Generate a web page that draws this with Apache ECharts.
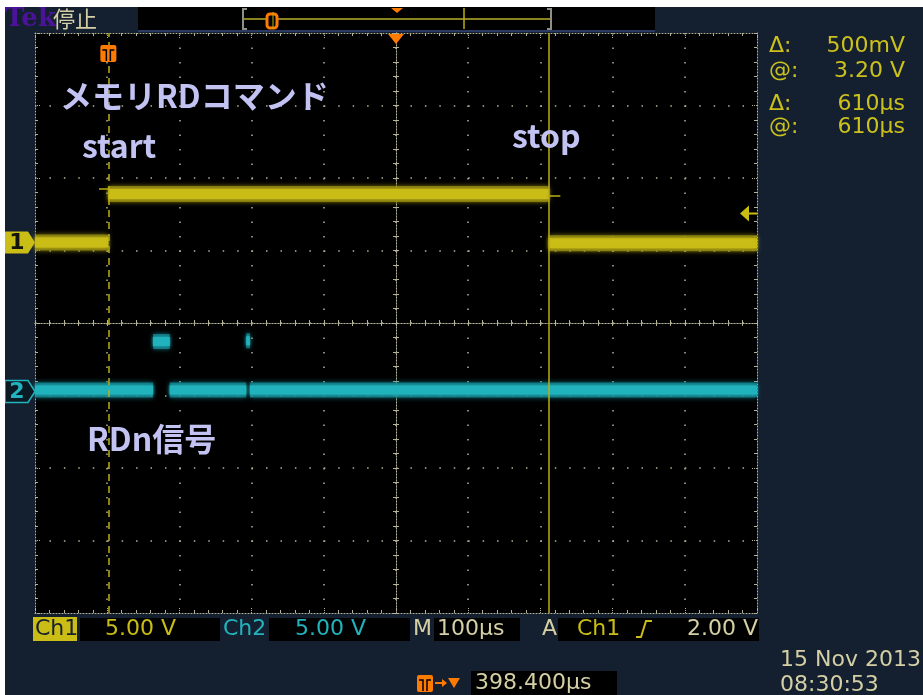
<!DOCTYPE html>
<html>
<head>
<meta charset="utf-8">
<title>メモリRDコマンド</title>
<script src="https://cdn.jsdelivr.net/npm/echarts@6.0.0/dist/echarts.min.js"></script>
<style>
  html, body { margin: 0; padding: 0; background: #ffffff; }
  #scope { width: 923px; height: 695px; }
</style>
</head>
<body>
<div id="scope"></div>
<script>
// ---- acquisition settings ----
const timePerDiv = 100;              // µs / div
const triggerDelay = 398.4;          // µs from trigger to screen centre
const voltsPerDiv = [5, 5];          // Ch1, Ch2
const channelPos = [1.11, -0.945];   // ground marker, divisions from centre

// ---- Ch1: memory RD command (edge times in µs from trigger, level between edges in V)
const ch1EdgeTimes = [-101.6, 0, 610, 898.4];
const ch1Levels = [0.0, 3.35, -0.05];

// ---- Ch2: RDn strobe
const ch2EdgeTimes = [-101.6, 62, 85, 191, 196, 898.4];
const ch2Levels = [0.1, 3.45, 0.1, 3.5, 0.1];

// ---- cursors and trigger
const cursorTimes = [0, 610];        // µs
const cursorLevels = [3.70, 3.20];   // V on Ch1
const triggerLevel = 2.0;            // V on Ch1

// ---- readouts
const cursorLabels = ['Δ:', '@:', 'Δ:', '@:'];
const cursorValues = ['500mV', '3.20 V', '610µs', '610µs'];
const channelScales = ['5.00 V', '5.00 V'];
const timebase = '100µs';
const triggerReadout = ['Ch1', '2.00 V'];
const delayReadout = '398.400µs';
const dateReadout = ['15 Nov 2013', '08:30:53'];
const notes = ['メモリRDコマンド', 'start', 'stop', 'RDn信号'];

const C = {
  navy: '#142030', ch1: '#cabd16', ch1Glow: '#978d12', ch2: '#22b3bd', ch2Glow: '#148892',
  grat: '#b4b396', beige: '#d4cfa4', orange: '#ff7b00', note: '#c3c3f3',
  cursor: '#bbae16', readout: '#ccc11c', tek: '#4b1399'
};

const tMin = triggerDelay - 5 * timePerDiv;
const tMax = triggerDelay + 5 * timePerDiv;

// step waveform with breaks at the (very fast) edges
function stepSegments(times, levels) {
  const pts = [];
  levels.forEach((v, i) => {
    pts.push([times[i], v], [times[i + 1], v]);
    if (i < levels.length - 1) pts.push([times[i + 1], null]);
  });
  return pts;
}
const ch1Data = stepSegments(ch1EdgeTimes, ch1Levels);
const ch2Data = stepSegments(ch2EdgeTimes, ch2Levels);

const gridBox = { left: 35, top: 33, width: 722, height: 580 };
const dots = (type, width) => ({ color: C.grat, width: width || 1, type });

function frameAxis(dim, pos, gridIndex, withSplit) {
  const isX = dim === 'x';
  return {
    gridIndex, type: 'value', position: pos,
    min: isX ? -5 : -4, max: isX ? 5 : 4, interval: 1,
    axisLine: { show: true, onZero: false, lineStyle: dots([1, 2]) },
    axisTick: { show: true, inside: true, length: 5, lineStyle: dots([1, 1]) },
    minorTick: { show: true, splitNumber: 5, length: 3, lineStyle: dots('solid') },
    axisLabel: { show: false },
    splitLine: {
      show: !!withSplit, showMinLine: false, showMaxLine: false,
      lineStyle: dots(isX ? [1.5, 13] : [1.5, 12.94], 1.5)
    }
  };
}
function centreAxis(dim, pos, zeroIndex) {
  const isX = dim === 'x';
  return {
    gridIndex: 2, type: 'value', position: pos,
    min: isX ? -5 : -4, max: isX ? 5 : 4, interval: 1,
    axisLine: { show: true, onZero: true, onZeroAxisIndex: zeroIndex, lineStyle: dots([1, 2]) },
    axisTick: { show: true, inside: true, length: 3, lineStyle: dots('solid') },
    minorTick: { show: true, splitNumber: 5, length: 3, lineStyle: dots('solid') },
    axisLabel: { show: false },
    splitLine: { show: false }
  };
}

function trace(data, yIdx, style, extra) {
  return Object.assign({
    type: 'line', xAxisIndex: 0, yAxisIndex: yIdx, data,
    showSymbol: false, symbol: 'none', connectNulls: false, silent: true, animation: false,
    lineStyle: Object.assign({ cap: 'butt' }, style)
  }, extra || {});
}

const cursorStyle = { color: C.cursor, width: 1.5 };
const option = {
  backgroundColor: C.navy,
  animation: false,
  grid: [0, 1, 2].map(i => Object.assign({}, gridBox, {
    show: i === 0, backgroundColor: '#000', borderWidth: 0
  })),
  xAxis: [
    { gridIndex: 0, type: 'value', min: tMin, max: tMax, show: false, axisLine: { onZero: false } },
    frameAxis('x', 'top', 1, true),
    frameAxis('x', 'bottom', 1, false),
    centreAxis('x', 'bottom', 4),
    centreAxis('x', 'top', 4)
  ],
  yAxis: [
    { gridIndex: 0, type: 'value', show: false, axisLine: { onZero: false },
      min: -(4 + channelPos[0]) * voltsPerDiv[0], max: (4 - channelPos[0]) * voltsPerDiv[0] },
    { gridIndex: 0, type: 'value', show: false, axisLine: { onZero: false },
      min: -(4 + channelPos[1]) * voltsPerDiv[1], max: (4 - channelPos[1]) * voltsPerDiv[1] },
    frameAxis('y', 'left', 1, true),
    frameAxis('y', 'right', 1, false),
    centreAxis('y', 'left', 3),
    centreAxis('y', 'right', 3)
  ],
  series: [
    // soft outer band of each noisy trace, then the bright core
    trace(ch1Data, 0, { color: C.ch1Glow, width: 16, opacity: 0.8, shadowBlur: 5, shadowColor: C.ch1Glow }),
    trace(ch2Data, 1, { color: C.ch2Glow, width: 15, opacity: 0.8, shadowBlur: 5, shadowColor: C.ch2Glow }),
    trace(ch2Data, 1, { color: C.ch2, width: 9, opacity: 0.95, shadowBlur: 3, shadowColor: C.ch2 }),
    trace(ch1Data, 0, { color: C.ch1, width: 10, opacity: 0.95, shadowBlur: 3, shadowColor: C.ch1 }, {
      markLine: {
        silent: true, symbol: 'none', animation: false, label: { show: false },
        data: [
          { xAxis: cursorTimes[0], lineStyle: Object.assign({ type: [7, 5] }, cursorStyle) },
          { xAxis: cursorTimes[1], lineStyle: Object.assign({ type: 'solid' }, cursorStyle) },
          [{ coord: [cursorTimes[0] - 13, cursorLevels[0]], lineStyle: Object.assign({ type: 'solid' }, cursorStyle) },
           { coord: [cursorTimes[0] + 1, cursorLevels[0]] }],
          [{ coord: [cursorTimes[1] - 3, cursorLevels[1]], lineStyle: Object.assign({ type: 'solid' }, cursorStyle) },
           { coord: [cursorTimes[1] + 16, cursorLevels[1]] }]
        ]
      }
    })
  ]
};

const chart = echarts.init(document.getElementById('scope'), null, { renderer: 'canvas' });
chart.setOption(option);

// ---- screen furniture ----
const px = (t, v, yIdx) => chart.convertToPixel({ xAxisIndex: 0, yAxisIndex: yIdx }, [t, v]);
const FONT = 'DejaVu Sans';
function txt(x, y, text, fill, size, o) {
  o = o || {};
  return {
    type: 'text', x, y, silent: true, z: 100,
    style: {
      text, fill, font: `${o.weight || 'normal'} ${size}px ${o.family || `"${FONT}"`}`,
      align: o.align || 'left', verticalAlign: 'middle'
    }
  };
}
function box(x, y, w, h, fill, extra) {
  return Object.assign({ type: 'rect', shape: { x, y, width: w, height: h }, style: { fill }, silent: true, z: 90 }, extra || {});
}
function poly(points, fill, z) {
  return { type: 'polygon', shape: { points }, style: { fill }, silent: true, z: z || 100 };
}
function pline(points, stroke, w, z) {
  return { type: 'polyline', shape: { points }, style: { stroke, lineWidth: w || 1, fill: null }, silent: true, z: z || 100 };
}
function triggerIcon(cx, top) {
  return [
    box(cx - 8, top, 16, 17, C.orange, { shape: { x: cx - 8, y: top, width: 16, height: 17, r: 2 }, z: 101 }),
    pline([[cx - 6, top + 5], [cx - 2, top + 5], [cx - 2, top + 16]], '#000', 1.5, 102),
    pline([[cx + 6, top + 5], [cx + 2, top + 5], [cx + 2, top + 16]], '#000', 1.5, 102)
  ];
}
function channelTag(y, fill, stroke, label, labelColor) {
  const shape = [[5, y - 11], [28, y - 11], [35, y], [28, y + 11], [5, y + 11]];
  const el = { type: 'polygon', shape: { points: shape }, style: { fill, stroke: stroke || null, lineWidth: 1.5 }, silent: true, z: 100 };
  return [el, txt(17, y + 1, label, labelColor, 22, { weight: 'bold', align: 'center' })];
}

const g = [];
// page margins of the screenshot
g.push(box(0, 0, 923, 7, '#ffffff', { z: 120 }), box(0, 0, 5, 695, '#ffffff', { z: 120 }));

// top bar: logo, state, record view
g.push(txt(5, 19, 'Tek', C.tek, 26, { weight: 'bold', family: '"DejaVu Serif"' }));
g.push(txt(53, 19, '停止', C.beige, 22, { family: '"Noto Sans CJK JP"' }));
g.push(box(138, 7, 517, 23, '#000'), box(138, 30, 517, 2, '#2a3a62'));
g.push(pline([[247, 9], [243, 9], [243, 29], [247, 29]], '#8f8f84', 2));
g.push(pline([[547, 9], [551, 9], [551, 29], [547, 29]], '#8f8f84', 2));
g.push(pline([[244, 19], [550, 19]], '#8a8220', 2));
g.push(pline([[464, 8], [464, 29]], C.cursor, 1.5));
g.push({ type: 'rect', shape: { x: 267, y: 14, width: 10, height: 14, r: 3 }, style: { fill: '#000', stroke: C.orange, lineWidth: 3 }, silent: true, z: 101 });
g.push(pline([[273, 12], [273, 29]], C.cursor, 1, 102));
g.push(poly([[391, 8], [403, 8], [397, 13]], C.orange));

// screen markers: trigger position, expansion point
const trigPt = px(0, 0, 0);
const centreX = gridBox.left + gridBox.width / 2;
g.push(poly([[centreX - 8, 34], [centreX + 8, 34], [centreX, 44]], C.orange));
g.push(...triggerIcon(trigPt[0], 45));

// channel ground tags, trigger level arrow
const ch1Ground = px(0, 0, 0)[1];
const ch2Ground = px(0, 0, 1)[1];
g.push(...channelTag(ch1Ground, C.ch1, null, '1', '#10140c'));
g.push(...channelTag(ch2Ground, '#0b1a22', C.ch2, '2', C.ch2));
const trigY = px(0, triggerLevel, 0)[1];
g.push(poly([[740, trigY], [749, trigY - 8], [749, trigY + 8]], C.ch1));
g.push(pline([[747, trigY], [757, trigY]], C.ch1, 2));

// cursor readouts
const rowY = [46, 71, 104, 127];
cursorLabels.forEach((s, i) => g.push(txt(769, rowY[i], s, C.readout, 22)));
cursorValues.forEach((s, i) => g.push(txt(905, rowY[i], s, C.readout, 22, { align: 'right' })));

// bottom readouts
const r1 = 629;
g.push(box(33, 617, 44, 24, C.ch1), txt(35, r1, 'Ch1', '#17202c', 22));
g.push(box(80, 618, 140, 23, '#000'), txt(105, r1, channelScales[0], C.ch1, 22));
g.push(txt(223, r1, 'Ch2', C.ch2, 22));
g.push(box(269, 618, 141, 23, '#000'), txt(295, r1, channelScales[1], C.ch2, 22));
g.push(txt(413, r1, 'M', C.beige, 22));
g.push(box(434, 618, 86, 23, '#000'), txt(437, r1, timebase, C.beige, 22));
g.push(txt(542, r1, 'A', C.beige, 22));
g.push(box(558, 618, 201, 23, '#000'), txt(577, r1, triggerReadout[0], C.ch1, 22));
g.push(pline([[636, 637], [641, 637], [646, 621], [652, 621]], C.ch1, 2));
g.push(txt(687, r1, triggerReadout[1], C.beige, 22));

const r3 = 683;
g.push(...triggerIcon(425, 675));
g.push(pline([[435, r3], [445, r3]], C.orange, 2), poly([[442, r3 - 4], [447, r3], [442, r3 + 4]], C.orange));
g.push(poly([[448, 678], [460, 678], [454, 688]], C.orange));
g.push(box(471, 671, 146, 24, '#000'), txt(475, r3, delayReadout, C.beige, 22));
g.push(txt(780, 660, dateReadout[0], C.beige, 22), txt(780, 685, dateReadout[1], C.beige, 22));

// notes written on the screen
const noteFont = { weight: 'bold', family: '"Noto Sans CJK JP"' };
g.push(txt(60, 96, notes[0], C.note, 32, noteFont));
g.push(txt(82, 146, notes[1], C.note, 32, noteFont));
g.push(txt(512, 136, notes[2], C.note, 32, noteFont));
g.push(txt(87, 439, notes[3], C.note, 32, noteFont));

chart.setOption({ graphic: { elements: g } });
</script>
</body>
</html>
